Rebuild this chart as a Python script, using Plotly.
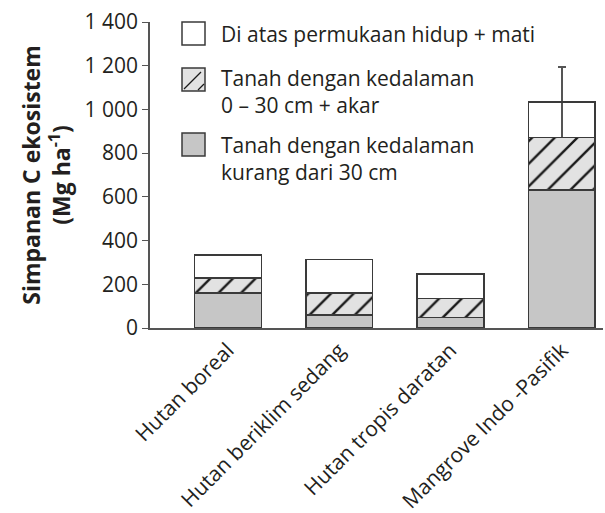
import plotly.graph_objects as go

# Ecosystem carbon stocks by forest type (Mg C per ha)
categories = ["Hutan boreal", "Hutan beriklim sedang", "Hutan tropis daratan", "Mangrove Indo -Pasifik"]
soil_deep = [160, 59, 49, 631]          # soil below 30 cm
soil_top_roots = [69, 102, 87, 240]     # soil 0-30 cm + roots
above_ground = [105, 153, 112, 162]     # above ground, live + dead
error_plus = [None, None, None, 162]    # upper error on ecosystem total

names = [
    "Tanah dengan kedalaman<br>kurang dari 30 cm",
    "Tanah dengan kedalaman<br>0 – 30 cm + akar",
    "Di atas permukaan hidup + mati",
]

# error whisker drawn from the top of the soil stack up to total + error
stack_soil = [a + b for a, b in zip(soil_deep, soil_top_roots)]
totals = [s + a for s, a in zip(stack_soil, above_ground)]
whisker = [None if e is None else t + e - s for e, t, s in zip(error_plus, totals, stack_soil)]

INK = "#231f20"
EDGE = "#3a3a3a"
GRAY = "#c6c6c6"
LIGHT = "#e2e2e2"
outline = dict(color=EDGE, width=1.5)
font_family = "Open Sans, Noto Sans, sans-serif"

W, H = 605, 513
M = dict(l=150, r=2, t=22, b=185)
PW, PH = W - M["l"] - M["r"], H - M["t"] - M["b"]


def px(x):
    return (x - M["l"]) / PW


def py(y):
    return (H - M["b"] - y) / PH


fig = go.Figure()
fig.add_trace(go.Bar(
    x=categories, y=soil_deep, name=names[0], width=0.6,
    marker=dict(color=GRAY, line=outline),
))
fig.add_trace(go.Bar(
    x=categories, y=soil_top_roots, name=names[1], width=0.6,
    marker=dict(color=LIGHT, line=outline,
                pattern=dict(shape="/", fgcolor="#1a1a1a", bgcolor=LIGHT,
                             size=16, solidity=0.15, fillmode="replace")),
    error_y=dict(type="data", array=whisker, arrayminus=[0, 0, 0, 0],
                 symmetric=False, color="#555555", thickness=1.5, width=4),
))
fig.add_trace(go.Bar(
    x=categories, y=above_ground, name=names[2], width=0.6,
    marker=dict(color="rgba(255,255,255,0)", line=outline),
))

# Key: swatch boxes with their labels, top to bottom
key_rows = [
    dict(box=(182, 22), fill="white", hatch=False, text=names[2], ty=34),
    dict(box=(182, 68), fill=LIGHT, hatch=True, text=names[1], ty=92),
    dict(box=(182, 133), fill=GRAY, hatch=False, text=names[0], ty=158),
]
shapes, annotations = [], []
S = 23
for row in key_rows:
    x0, y0 = row["box"]
    shapes.append(dict(type="rect", xref="paper", yref="paper",
                       x0=px(x0), x1=px(x0 + S), y0=py(y0 + S), y1=py(y0),
                       fillcolor=row["fill"], line=dict(color=EDGE, width=1.5)))
    if row["hatch"]:
        shapes.append(dict(type="line", xref="paper", yref="paper",
                           x0=px(x0 + 2), y0=py(y0 + S - 2), x1=px(x0 + S - 4), y1=py(y0 + 4),
                           line=dict(color="#1a1a1a", width=1.3)))
        shapes.append(dict(type="line", xref="paper", yref="paper",
                           x0=px(x0 + S - 7), y0=py(y0 + S - 1), x1=px(x0 + S - 1), y1=py(y0 + S - 7),
                           line=dict(color="#1a1a1a", width=1.3)))
    annotations.append(dict(xref="paper", yref="paper", x=px(219), y=py(row["ty"]),
                            xanchor="left", yanchor="middle", align="left",
                            showarrow=False, text=row["text"],
                            font=dict(size=21, color=INK, family=font_family)))

fig.update_layout(
    width=W, height=H,
    margin=M,
    barmode="stack",
    plot_bgcolor="white", paper_bgcolor="white",
    separators=". ",
    font=dict(family=font_family, size=21, color=INK),
    showlegend=False,
    shapes=shapes,
    annotations=annotations,
    xaxis=dict(
        range=[-0.70, 3.37], tickangle=-45, showline=True, linecolor="#555555",
        linewidth=1.5, ticks="", showgrid=False, zeroline=False, automargin=False,
        tickfont=dict(size=21, color=INK),
    ),
    yaxis=dict(
        range=[0, 1400], dtick=200, tickformat=",", showline=True,
        linecolor="#555555", linewidth=1.5, ticks="outside", ticklen=6,
        tickcolor="#555555", showgrid=False, zeroline=False, automargin=False,
        tickfont=dict(size=21, color=INK),
        title=dict(text="<b>Simpanan C ekosistem<br>(Mg ha<sup>-1</sup>)</b>",
                   font=dict(size=23, color=INK), standoff=8),
    ),
)

fig.write_html("out.html")
